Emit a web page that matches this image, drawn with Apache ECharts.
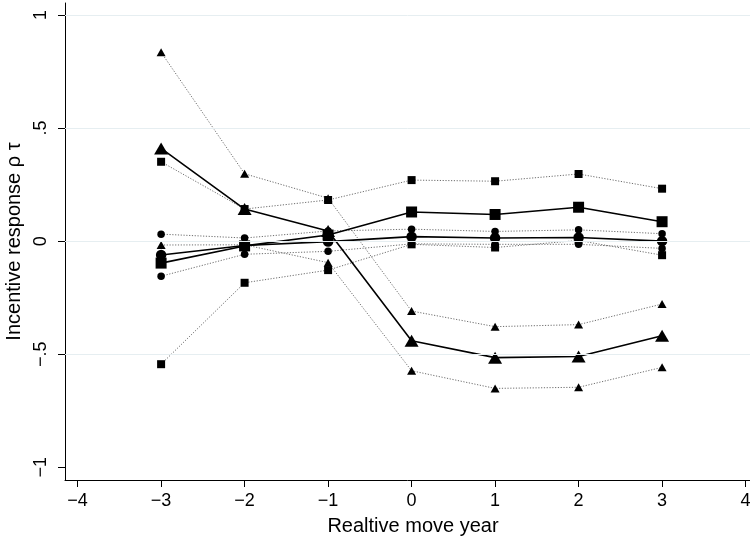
<!DOCTYPE html>
<html>
<head>
<meta charset="utf-8">
<script src="https://cdn.jsdelivr.net/npm/echarts@6/dist/echarts.min.js"></script>
<style>
  html, body { margin: 0; padding: 0; background: #fff; }
  #chart { width: 750px; height: 546px; }
</style>
</head>
<body>
<div id="chart"></div>
<script>
// Relative move year (x) and tick positions
const moveYears = [-3, -2, -1, 0, 1, 2, 3];
const xTicks = [-4, -3, -2, -1, 0, 1, 2, 3, 4];
const yTicks = [-1, -0.5, 0, 0.5, 1];
const gridValues = [1, 0.5, 0, -0.5];

// Estimates (triangles) with confidence bounds
const triEst = [0.41, 0.142, 0.045, -0.44, -0.515, -0.51, -0.418];
const triHi  = [0.835, 0.298, 0.19, -0.309, -0.378, -0.369, -0.278];
const triLo  = [-0.017, -0.016, -0.095, -0.573, -0.651, -0.646, -0.558];

// Estimates (squares) with confidence bounds
const sqEst = [-0.097, -0.021, 0.027, 0.129, 0.118, 0.15, 0.086];
const sqHi  = [0.351, 0.142, 0.182, 0.27, 0.265, 0.297, 0.232];
const sqLo  = [-0.544, -0.184, -0.128, -0.014, -0.028, 0.003, -0.062];

// Estimates (circles) with confidence bounds
const ciEst = [-0.061, -0.019, -0.002, 0.02, 0.014, 0.016, 0.0];
const ciHi  = [0.031, 0.014, 0.045, 0.053, 0.043, 0.05, 0.033];
const ciLo  = [-0.155, -0.058, -0.045, -0.012, -0.014, -0.014, -0.032];

const FONT = '"Liberation Sans", Arial, sans-serif';
const pairs = vals => moveYears.map((x, i) => [x, vals[i]]);

function fmtNum(v) {
  if (v === 0) return '0';
  const s = String(Math.abs(v)).replace(/^0\./, '.');
  return (v < 0 ? '\u2212' : '') + s;
}

function bound(name, vals, symbol, size) {
  return {
    name, type: 'line', data: pairs(vals), z: 3,
    symbol, symbolSize: size, showSymbol: true,
    itemStyle: { color: '#000' },
    lineStyle: { color: '#6e6e6e', width: 1, type: [1.2, 1.6] },
    emphasis: { disabled: true }, animation: false
  };
}
function estimate(name, vals, symbol, size) {
  return {
    name, type: 'line', data: pairs(vals), z: 4,
    symbol, symbolSize: size, showSymbol: true,
    itemStyle: { color: '#000' },
    lineStyle: { color: '#000', width: 1.6 },
    emphasis: { disabled: true }, animation: false
  };
}

const chart = echarts.init(document.getElementById('chart'), null, { renderer: 'canvas' });
chart.setOption({
  backgroundColor: '#fff',
  animation: false,
  grid: { left: 65, right: 0, top: 3, bottom: 66, outerBoundsMode: 'none' },
  xAxis: {
    type: 'value', min: -4.151, max: 4.053,
    name: 'Realtive move year', nameLocation: 'middle', nameGap: 36,
    nameTextStyle: { fontFamily: FONT, fontSize: 20, color: '#000', padding: [0, 0, 0, 11] },
    axisLine: { show: true, onZero: false, lineStyle: { color: '#000', width: 1 } },
    axisTick: { show: true, length: 7, customValues: xTicks, lineStyle: { color: '#000' } },
    axisLabel: { customValues: xTicks, margin: 12, fontFamily: FONT, fontSize: 18, color: '#000',
                 formatter: fmtNum },
    splitLine: { show: false }
  },
  yAxis: {
    type: 'value', min: -1.056, max: 1.053,
    name: 'Incentive response \u03c1 \u03c4', nameLocation: 'middle', nameGap: 29,
    nameTextStyle: { fontFamily: FONT, fontSize: 20, color: '#000' },
    axisLine: { show: true, onZero: false, lineStyle: { color: '#000', width: 1 } },
    axisTick: { show: true, length: 7, customValues: yTicks, lineStyle: { color: '#000' } },
    axisLabel: { customValues: yTicks, rotate: 90, margin: 15, fontFamily: FONT, fontSize: 18,
                 color: '#000', formatter: fmtNum },
    splitLine: { show: false }
  },
  series: [
    {
      name: 'grid', type: 'line', data: [], z: 1, silent: true,
      markLine: {
        silent: true, symbol: 'none', animation: false,
        label: { show: false },
        lineStyle: { color: '#e6eef1', width: 1, type: 'solid' },
        data: gridValues.map(v => ({ yAxis: v }))
      }
    },
    bound('triangle upper', triHi, 'triangle', [9, 8]),
    bound('triangle lower', triLo, 'triangle', [9, 8]),
    bound('square upper', sqHi, 'rect', 8),
    bound('square lower', sqLo, 'rect', 8),
    bound('circle upper', ciHi, 'circle', 7.5),
    bound('circle lower', ciLo, 'circle', 7.5),
    estimate('triangle', triEst, 'triangle', [14, 12]),
    estimate('square', sqEst, 'rect', 11),
    estimate('circle', ciEst, 'circle', 10.5)
  ]
});
</script>
</body>
</html>
